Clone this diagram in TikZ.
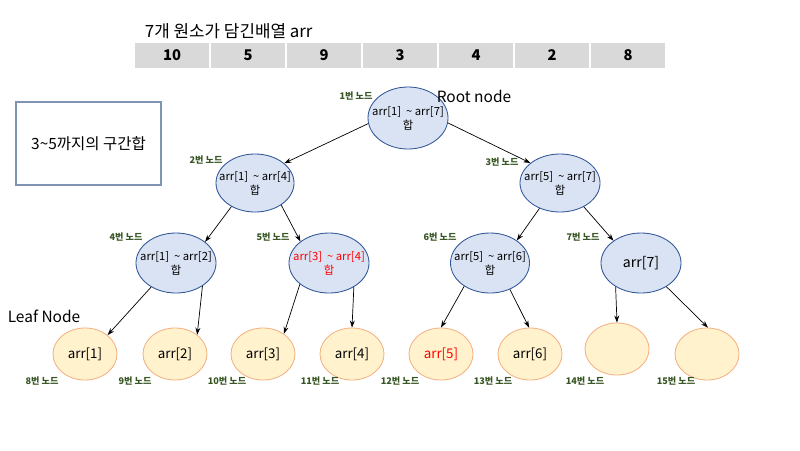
\documentclass[tikz,border=0pt]{standalone}
\usepackage{fontspec}
\setmainfont{Noto Sans CJK KR}
\usepackage{xcolor}
\usetikzlibrary{shapes.geometric, arrows.meta, positioning}

\definecolor{cellgray}{HTML}{D9D9D9}
\definecolor{innerfill}{HTML}{DAE3F3}
\definecolor{innerline}{HTML}{2F5597}
\definecolor{leaffill}{HTML}{FFF2CC}
\definecolor{leafline}{HTML}{F4B183}
\definecolor{tagcolor}{HTML}{375623}
\definecolor{boxline}{HTML}{7F93B5}

\begin{document}
\begin{tikzpicture}[x=0.025cm, y=-0.025cm,
    cellbox/.style={rectangle, fill=cellgray, draw=white, line width=1pt, minimum width=1.9cm, minimum height=0.675cm, font=\fontsize{10.5}{12}\selectfont\bfseries},
    innernode/.style={ellipse, draw=innerline, fill=innerfill, line width=0.6pt, minimum width=2cm, minimum height=1.5cm, inner sep=0pt},
    leafnode/.style={ellipse, draw=leafline, fill=leaffill, line width=0.6pt, minimum width=1.6cm, minimum height=1.3cm, inner sep=0pt},
    innertext/.style={font=\fontsize{8}{10}\selectfont, align=center},
    leaftext/.style={font=\fontsize{9.5}{11}\selectfont},
    nodetag/.style={font=\fontsize{6.5}{7.5}\selectfont\bfseries, text=tagcolor},
    bigtext/.style={font=\fontsize{11}{13}\selectfont},
    edge/.style={-{Stealth[length=5pt, width=3.5pt]}, line width=0.5pt}
]
    \useasboundingbox (0,0) rectangle (800,450);

    % Array
    \node[font=\fontsize{12}{14}\selectfont, anchor=west] (title) at (140,31) {7개 원소가 담긴배열 arr};
    \foreach \v [count=\i] in {10,5,9,3,4,2,8}
        \node[cellbox] (cell\i) at ({172+76*(\i-1)},55.5) {\v};

    % Query box
    \node[draw=boxline, line width=0.8pt, minimum width=3.625cm, minimum height=2.075cm, bigtext] (query) at (88.5,143.5) {3\textasciitilde 5까지의 구간합};

    % Inner nodes
    \node[innernode, minimum height=1.55cm, label={[innertext]center:arr[1]\ \ \textasciitilde\ arr[7]\\합}] (n1) at (408,118) {};
    \node[innernode, minimum width=1.95cm, minimum height=1.45cm, label={[innertext]center:arr[1]\ \ \textasciitilde\ arr[4]\\합}] (n2) at (255,183) {};
    \node[innernode, minimum height=1.45cm, label={[innertext]center:arr[5]\ \ \textasciitilde\ arr[7]\\합}] (n3) at (560,183) {};
    \node[innernode, label={[innertext]center:arr[1]\ \ \textasciitilde\ arr[2]\\합}] (n4) at (176,263) {};
    \node[innernode, label={[innertext, text=red]center:arr[3]\ \ \textasciitilde\ arr[4]\\합}] (n5) at (329,263) {};
    \node[innernode, minimum width=1.975cm, label={[innertext]center:arr[5]\ \ \textasciitilde\ arr[6]\\합}] (n6) at (490,263) {};
    \node[innernode, label={[leaftext, font=\fontsize{10}{12}\selectfont]center:arr[7]}] (n7) at (641,263) {};

    % Leaf nodes
    \node[leafnode, label={[leaftext]center:arr[1]}] (n8) at (85,354) {};
    \node[leafnode, label={[leaftext]center:arr[2]}] (n9) at (175,354) {};
    \node[leafnode, label={[leaftext]center:arr[3]}] (n10) at (263,354) {};
    \node[leafnode, label={[leaftext]center:arr[4]}] (n11) at (352,354) {};
    \node[leafnode, label={[leaftext, text=red]center:arr[5]}] (n12) at (441,354) {};
    \node[leafnode, label={[leaftext]center:arr[6]}] (n13) at (530,354) {};
    \node[leafnode] (n14) at (617,349) {};
    \node[leafnode] (n15) at (707,354) {};

    % Node tags
    \node[nodetag] (t1) at (356,96) {1번 노드};
    \node[nodetag] (t2) at (206,160) {2번 노드};
    \node[nodetag] (t3) at (502,162) {3번 노드};
    \node[nodetag] (t4) at (126,237) {4번 노드};
    \node[nodetag] (t5) at (273,237) {5번 노드};
    \node[nodetag] (t6) at (440,237) {6번 노드};
    \node[nodetag] (t7) at (583,237) {7번 노드};
    \foreach \k/\x in {8/42,9/135,10/227,11/320,12/400,13/493,14/585,15/676}
        \node[nodetag] (t\k) at (\x,381) {{\k}번 노드};

    \node[bigtext] (rootlbl) at (474,96) {Root node};
    \node[bigtext] (leaflbl) at (44,316) {Leaf Node};

    % Edges
    \draw[edge] (n1.188) -- (n2.34);
    \draw[edge] (n1.353) -- (n3.146);
    \draw[edge] (n2.225) -- (n4.36);
    \draw[edge] (n2.320) -- (n5.143);
    \draw[edge] (n3.231) -- (n6.40);
    \draw[edge] (n3.315) -- (n7.141);
    \draw[edge] (n4.224) -- (n8.40);
    \draw[edge] (n4.319) -- (n9.41);
    \draw[edge] (n5.216) -- (n10.44);
    \draw[edge] (n5.316) -- (n11.90);
    \draw[edge] (n6.222) -- (n12.90);
    \draw[edge] (n6.307) -- (n13.92);
    \draw[edge] (n7.223) -- (n14.90);
    \draw[edge] (n7.317) -- (n15.88);
\end{tikzpicture}
\end{document}
